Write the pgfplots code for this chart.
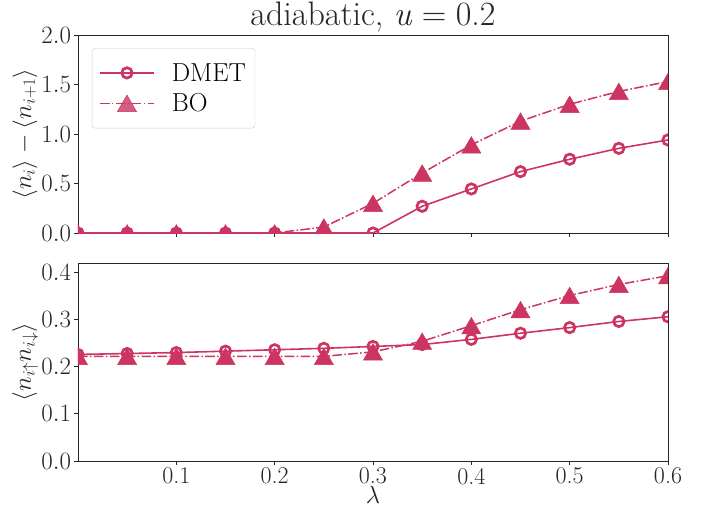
\documentclass[border=0pt]{standalone}
\usepackage{pgfplots}
\pgfplotsset{compat=1.18}
\definecolor{cr}{RGB}{204,52,98}
\pgfplotstableread{
x dmet bo
0.00 0.00 0.00
0.05 0.00 0.00
0.10 0.00 0.00
0.15 0.00 0.00
0.20 0.00 0.00
0.25 0.00 0.06
0.30 0.00 0.30
0.35 0.27 0.605
0.40 0.445 0.89
0.45 0.62 1.13
0.50 0.745 1.30
0.55 0.855 1.43
0.60 0.94 1.53
}\topdata
\pgfplotstableread{
x dmet bo
0.00 0.226 0.222
0.05 0.228 0.222
0.10 0.230 0.222
0.15 0.233 0.222
0.20 0.236 0.222
0.25 0.239 0.222
0.30 0.243 0.2315
0.35 0.247 0.254
0.40 0.258 0.287
0.45 0.271 0.321
0.50 0.283 0.351
0.55 0.296 0.3745
0.60 0.306 0.393
}\botdata
\newcommand{\lf}{\fontsize{24}{28}\selectfont}
\newcommand{\legf}{\fontsize{26}{30}\selectfont}
\pgfplotsset{
  myax/.style={
    width=590pt, height=198pt, scale only axis,
    xmin=0, xmax=0.6,
    xtick={0.1,0.2,0.3,0.4,0.5,0.6},
    tick align=outside, major tick length=3.5pt,
    xtick pos=bottom, ytick pos=left,
    axis line style={black!85, line width=0.9pt},
    every tick/.style={black!85, line width=0.8pt},
    tick label style={font=\lf, text=black!85},
    label style={font=\lf, text=black!85},
    yticklabel style={/pgf/number format/.cd, fixed, fixed zerofill, precision=1},
    clip marker paths=true,
    every axis plot/.append style={cr},
  },
  dmetst/.style={cr, line width=1.6pt, mark=o, mark size=5.2pt, mark options={fill=white, solid, line width=2.7pt}},
  bost/.style={cr, line width=1.5pt, dash pattern=on 9.6pt off 2.4pt on 1.5pt off 2.4pt, mark=triangle*, mark size=11pt, mark options={solid, fill=cr, line width=0.5pt, yshift=-2.7pt}},
  legend image code/.code={\draw[mark repeat=2,mark phase=2,#1] plot coordinates {(0pt,0pt) (27pt,0pt) (54pt,0pt)};},
}
\begin{document}
\begin{tikzpicture}
\path[use as bounding box] (-78pt,-273pt) rectangle (623pt,233pt);
\begin{axis}[myax, at={(0,0)}, anchor=south west,
  ymin=0, ymax=2, ytick={0,0.5,1,1.5,2},
  xticklabels={},
  title={adiabatic, \textit{u}\hspace{0.28em}=\hspace{0.28em}0.2},
  title style={font=\fontsize{34}{38}\selectfont, text=black!85, at={(axis description cs:0.5,1)}, anchor=base, yshift=3.5pt, inner sep=0pt},
  ylabel={$\langle n_i\rangle - \langle n_{i+1}\rangle$},
  ylabel style={at={(axis description cs:-0.0898,0.5)}, anchor=center},
  legend style={at={(axis description cs:0.0237,0.934)}, anchor=north west,
    draw=black!20, rounded corners=3pt, fill=white, fill opacity=0.8, text opacity=1,
    font=\legf, row sep=7pt, inner xsep=7pt, inner ysep=13pt},
  legend cell align=left,
]
\addplot[dmetst] table[x=x, y=dmet] {\topdata};
\addlegendentry{\legf\hspace{15pt}DMET}
\addplot[bost] table[x=x, y=bo] {\topdata};
\addlegendentry{\legf\hspace{15pt}BO}
\end{axis}
\begin{axis}[myax, at={(0,-228pt)}, anchor=south west,
  ymin=0, ymax=0.42, ytick={0,0.1,0.2,0.3,0.4},
  xticklabels={0.1,0.2,0.3,0.4,0.5,0.6},
  xlabel={$\lambda$},
  xlabel style={at={(axis description cs:0.5,-0.126)}, anchor=north, inner sep=0pt},
  ylabel={$\langle n_{i\uparrow} n_{i\downarrow}\rangle$},
  ylabel style={at={(axis description cs:-0.0898,0.5)}, anchor=center},
]
\addplot[dmetst] table[x=x, y=dmet] {\botdata};
\addplot[bost] table[x=x, y=bo] {\botdata};
\end{axis}
\end{tikzpicture}
\end{document}
